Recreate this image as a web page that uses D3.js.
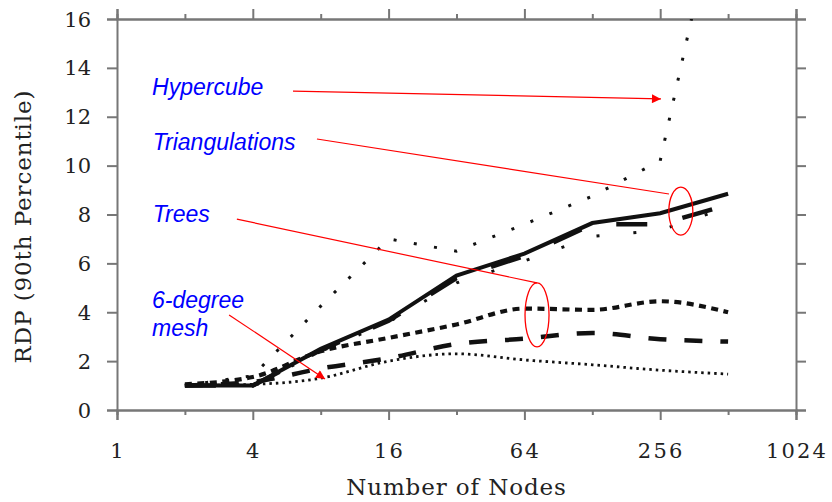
<!DOCTYPE html>
<html>
<head>
<meta charset="utf-8">
<script src="https://cdn.jsdelivr.net/npm/d3@7"></script>
<style>
  body { margin: 0; background: #fff; }
  svg { display: block; }
  .tick-label { font-family: "DejaVu Serif", serif; font-size: 21px; fill: #222; }
  .tick-label.x { letter-spacing: 2.2px; }
  .axis-title { font-family: "DejaVu Serif", serif; font-size: 23px; fill: #222; letter-spacing: 0.9px; }
  .note { font-family: "Liberation Sans", Arial, sans-serif; font-style: italic; font-size: 23px; fill: #0000ff; }
</style>
</head>
<body>
<div id="chart"></div>
<script>
// number of nodes (x) and RDP values per curve
const nodes = [2, 4, 8, 16, 32, 64, 128, 256, 512];
const triSolid      = [1.0, 1.0, 2.5, 3.7, 5.5, 6.4, 7.65, 8.05, 8.85];
const triDashed     = [1.0, 1.0, 2.45, 3.65, 5.4, 6.3, 7.6, 7.6, 8.4];
const hyperDotted   = [1.0, 1.4, 4.25, 7.0, 6.5, 7.6, 8.75, 10.2, 22.8];
const hyperDotted2  = [1.0, 1.0, 2.4, 3.6, 5.2, 6.1, 7.1, 7.35, 8.3];
const treesShort    = [1.05, 1.35, 2.4, 2.95, 3.5, 4.15, 4.1, 4.45, 4.0];
const treesLong     = [1.0, 1.15, 1.7, 2.12, 2.7, 2.92, 3.15, 2.9, 2.8];
const meshDotted    = [1.0, 1.05, 1.3, 2.0, 2.3, 2.05, 1.85, 1.63, 1.47];

const xMajor = [1, 4, 16, 64, 256, 1024];
const xMinor = [2, 8, 32, 128, 512];
const yTicks = [0, 2, 4, 6, 8, 10, 12, 14, 16];

// annotations in data coordinates: [nodes, rdp]
const labels = [
  { text: "Hypercube", at: [1.43, 12.9] },
  { text: "Triangulations", at: [1.44, 10.64] },
  { text: "Trees", at: [1.44, 7.69] },
  { text: "6-degree", at: [1.43, 4.17] },
  { text: "mesh", at: [1.43, 3.03] }
];
const pointers = [
  { from: [6.03, 13.05], to: [258, 12.73], arrow: true },
  { from: [7.7, 11.09], to: [280, 8.84], arrow: false },
  { from: [3.4, 7.81], to: [72.8, 5.2], arrow: false },
  { from: [3.14, 3.89], to: [8.36, 1.27], arrow: true }
];
const rings = [
  { at: [316, 8.14], rx: 12, ry: 24 },
  { at: [72.8, 3.89], rx: 12, ry: 32 }
];

const W = 832, H = 502;
const margin = { top: 19, right: 36, bottom: 92, left: 117 };

const svg = d3.select("#chart").append("svg")
  .attr("width", W).attr("height", H);

const x = d3.scaleLog().base(2).domain([1, 1024]).range([margin.left, W - margin.right]);
const y = d3.scaleLinear().domain([0, 16]).range([H - margin.bottom, margin.top]);

svg.append("clipPath").attr("id", "plot")
  .append("rect")
  .attr("x", x(1)).attr("y", y(16))
  .attr("width", x(1024) - x(1)).attr("height", y(0) - y(16));

// ---- axes: box with outward ticks on all four sides
const axisColor = "#777";
function styleAxis(g) {
  g.select(".domain").attr("stroke", axisColor).attr("stroke-width", 2);
  g.selectAll(".tick line").attr("stroke", axisColor).attr("stroke-width", 2);
  g.selectAll(".tick text").remove();
}
svg.append("g").attr("transform", `translate(0,${y(0)})`)
  .call(d3.axisBottom(x).tickValues(xMajor).tickSizeOuter(0).tickSize(10)).call(styleAxis);
svg.append("g").attr("transform", `translate(0,${y(16)})`)
  .call(d3.axisTop(x).tickValues(xMajor).tickSizeOuter(0).tickSize(10)).call(styleAxis);
svg.append("g").attr("transform", `translate(0,${y(0)})`)
  .call(d3.axisBottom(x).tickValues(xMinor).tickSizeOuter(0).tickSize(5)).call(styleAxis);
svg.append("g").attr("transform", `translate(0,${y(16)})`)
  .call(d3.axisTop(x).tickValues(xMinor).tickSizeOuter(0).tickSize(5)).call(styleAxis);
svg.append("g").attr("transform", `translate(${x(1)},0)`)
  .call(d3.axisLeft(y).tickValues(yTicks).tickSizeOuter(0).tickSize(10)).call(styleAxis);
svg.append("g").attr("transform", `translate(${x(1024)},0)`)
  .call(d3.axisRight(y).tickValues(yTicks).tickSizeOuter(0).tickSize(10)).call(styleAxis);

// tick labels
svg.append("g").selectAll("text").data(xMajor).join("text")
  .attr("class", "tick-label x")
  .attr("x", d => x(d) + 1).attr("y", y(0) + 48)
  .attr("text-anchor", "middle")
  .text(d => d);
svg.append("g").selectAll("text").data(yTicks).join("text")
  .attr("class", "tick-label")
  .attr("x", x(1) - 26).attr("y", d => y(d))
  .attr("dy", "0.36em")
  .attr("text-anchor", "end")
  .text(d => d);

svg.append("text").attr("class", "axis-title")
  .attr("x", (x(1) + x(1024)) / 2).attr("y", 495)
  .attr("text-anchor", "middle")
  .text("Number of Nodes");
svg.append("text").attr("class", "axis-title")
  .attr("transform", `translate(31,${(y(0) + y(16)) / 2 + 12}) rotate(-90)`)
  .attr("text-anchor", "middle")
  .text("RDP (90th Percentile)");

// ---- curves
const series = [
  { values: meshDotted,   width: 2.8, dash: "2.5,4",  curve: d3.curveMonotoneX },
  { values: treesLong,    width: 4.5, dash: "18,18",  curve: d3.curveMonotoneX },
  { values: treesShort,   width: 4.2, dash: "7,5.5",  curve: d3.curveMonotoneX },
  { values: hyperDotted2, width: 3,   dash: "3,34",   curve: d3.curveLinear },
  { values: hyperDotted,  width: 3,   dash: "3,17.5", curve: d3.curveLinear },
  { values: triDashed,    width: 4.5, dash: "31,36",  curve: d3.curveLinear },
  { values: triSolid,     width: 4,   dash: null,     curve: d3.curveLinear }
];

const plot = svg.append("g").attr("clip-path", "url(#plot)");
series.forEach(s => {
  const line = d3.line()
    .x((d, i) => x(nodes[i]))
    .y(d => y(d))
    .curve(s.curve);
  plot.append("path")
    .datum(s.values)
    .attr("d", line)
    .attr("fill", "none")
    .attr("stroke", "#111")
    .attr("stroke-width", s.width)
    .attr("stroke-dasharray", s.dash);
});

// ---- annotations
const red = "#ff0000";
svg.append("defs").append("marker")
  .attr("id", "head")
  .attr("viewBox", "0 0 10 10")
  .attr("refX", 10).attr("refY", 5)
  .attr("markerWidth", 10).attr("markerHeight", 9)
  .attr("markerUnits", "userSpaceOnUse")
  .attr("orient", "auto")
  .append("path").attr("d", "M0,0L10,5L0,10Z").attr("fill", red);

svg.append("g").selectAll("line").data(pointers).join("line")
  .attr("x1", d => x(d.from[0])).attr("y1", d => y(d.from[1]))
  .attr("x2", d => x(d.to[0])).attr("y2", d => y(d.to[1]))
  .attr("stroke", red).attr("stroke-width", 1.2)
  .attr("marker-end", d => d.arrow ? "url(#head)" : null);

svg.append("g").selectAll("ellipse").data(rings).join("ellipse")
  .attr("cx", d => x(d.at[0])).attr("cy", d => y(d.at[1]))
  .attr("rx", d => d.rx).attr("ry", d => d.ry)
  .attr("fill", "none").attr("stroke", red).attr("stroke-width", 1.3);

svg.append("g").selectAll("text").data(labels).join("text")
  .attr("class", "note")
  .attr("x", d => x(d.at[0])).attr("y", d => y(d.at[1]))
  .text(d => d.text);
</script>
</body>
</html>
